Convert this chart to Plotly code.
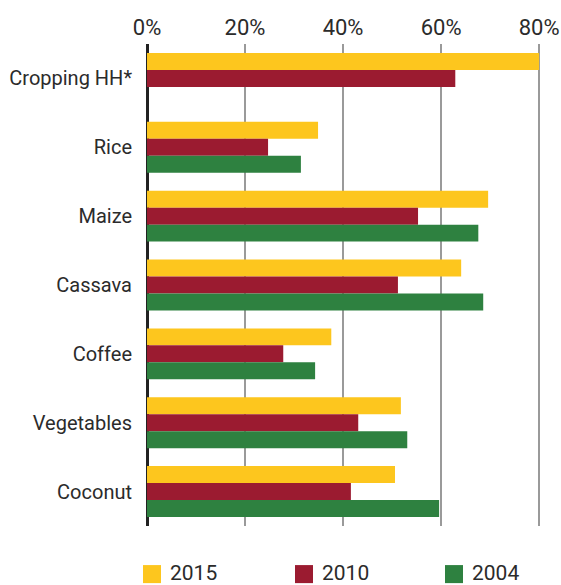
import plotly.graph_objects as go

# Share of households growing each crop, by survey year (%)
categories = ["Cropping HH*", "Rice", "Maize", "Cassava", "Coffee", "Vegetables", "Coconut"]
years = ["2015", "2010", "2004"]
share_2015 = [80.0, 34.9, 69.6, 64.1, 37.6, 51.8, 50.6]
share_2010 = [62.9, 24.7, 55.3, 51.2, 27.8, 43.1, 41.6]
share_2004 = [None, 31.4, 67.6, 68.6, 34.3, 53.1, 59.6]
tick_vals = [0, 20, 40, 60, 80]
tick_text = ["0%", "20%", "40%", "60%", "80%"]

colors = ["#FDC61E", "#9B1B30", "#2E8140"]
series = [share_2015, share_2010, share_2004]

FONT = "Roboto"
TEXT = "#2b2b2b"

fig = go.Figure()
for name, vals, col in zip(years, series, colors):
    fig.add_trace(go.Bar(
        y=categories, x=vals, name=name, orientation="h",
        marker=dict(color=col, line=dict(width=0)),
        showlegend=False,
    ))

# Legend row: coloured squares with year labels
PW, PH = 397, 481
legend_x0 = [143, 295, 445]
for name, col, x0 in zip(years, colors, legend_x0):
    fig.add_shape(type="rect", xref="paper", yref="paper",
                  x0=(x0 - 147) / PW, x1=(x0 + 18 - 147) / PW,
                  y0=-(565 - 526) / PH, y1=-(583 - 526) / PH,
                  fillcolor=col, line=dict(width=0))
    fig.add_annotation(text=name, xref="paper", yref="paper",
                       x=(x0 + 25 - 147) / PW, y=-(573 - 526) / PH,
                       xanchor="left", yanchor="middle", showarrow=False,
                       font=dict(family=FONT, size=21, color=TEXT))

fig.update_layout(
    width=561, height=585,
    margin=dict(l=147, r=17, t=44, b=59, autoexpand=False),
    paper_bgcolor="white", plot_bgcolor="white",
    barmode="group", bargap=0.26, bargroupgap=0,
    font=dict(family=FONT, size=20, color=TEXT),
    xaxis=dict(
        side="top", range=[0, 81], automargin=False,
        tickvals=tick_vals, ticktext=tick_text,
        showgrid=True, gridcolor="#9a9a9a", gridwidth=2,
        zeroline=True, zerolinecolor="#222222", zerolinewidth=3,
        showline=False, ticks="", ticklabelstandoff=4,
        tickfont=dict(family=FONT, size=22, color=TEXT),
    ),
    yaxis=dict(
        autorange="reversed", showgrid=False, showline=False, ticks="",
        automargin=False, ticklabelstandoff=14,
        tickfont=dict(family=FONT, size=20, color=TEXT),
    ),
)

fig.write_html("out.html")
